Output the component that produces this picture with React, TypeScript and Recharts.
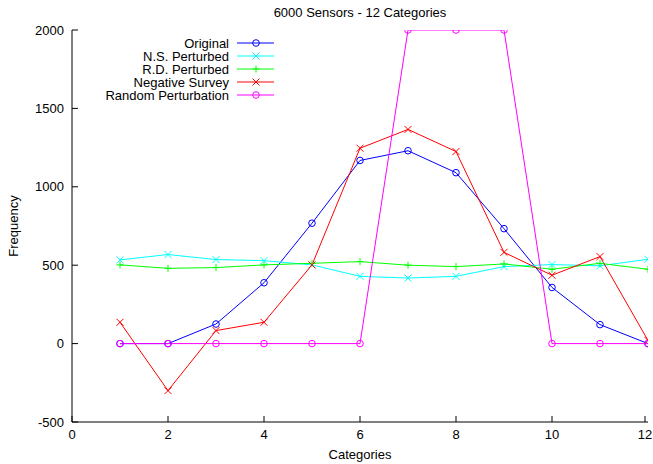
import React from 'react';
import { LineChart, Line, XAxis, YAxis, Legend } from 'recharts';

// Category index on the x axis
const categories = [1, 2, 3, 4, 5, 6, 7, 8, 9, 10, 11, 12];

// Frequency per category for each method
const original = [0, 0, 125, 388, 768, 1168, 1230, 1090, 733, 358, 121, 0];
const nsPerturbed = [534, 568, 536, 529, 502, 429, 418, 429, 491, 504, 496, 538];
const rdPerturbed = [502, 480, 485, 502, 512, 523, 500, 491, 508, 474, 512, 474];
const negativeSurvey = [136, -300, 83, 136, 502, 1246, 1366, 1225, 582, 436, 555, 20];
const randomPerturbation = [0, 0, 0, 0, 0, 0, 2000, 2000, 2000, 0, 0, 0];

const xTicks = [0, 2, 4, 6, 8, 10, 12];
const yTicks = [-500, 0, 500, 1000, 1500, 2000];

const title = '6000 Sensors - 12 Categories';
const xLabel = 'Categories';
const yLabel = 'Frequency';

type MarkerKind = 'circle' | 'x' | 'plus';

const series: { key: string; name: string; color: string; marker: MarkerKind; values: number[] }[] = [
  { key: 'original', name: 'Original', color: '#0000ff', marker: 'circle', values: original },
  { key: 'ns', name: 'N.S. Perturbed', color: '#00ffff', marker: 'x', values: nsPerturbed },
  { key: 'rd', name: 'R.D. Perturbed', color: '#00ff00', marker: 'plus', values: rdPerturbed },
  { key: 'neg', name: 'Negative Survey', color: '#ff0000', marker: 'x', values: negativeSurvey },
  { key: 'rand', name: 'Random Perturbation', color: '#ff00ff', marker: 'circle', values: randomPerturbation },
];

const data = categories.map((c, i) => {
  const row: Record<string, number> = { x: c };
  series.forEach((s) => {
    row[s.key] = s.values[i];
  });
  return row;
});

const FONT = '"Liberation Sans", Arial, Helvetica, sans-serif';
const FONT_SIZE = 13;
const TICK_LEN = 6;

function Marker({ cx, cy, kind, color }: { cx: number; cy: number; kind: MarkerKind; color: string }) {
  const s = 3.5;
  if (kind === 'circle') {
    return <circle cx={cx} cy={cy} r={3.3} fill="none" stroke={color} strokeWidth={1} />;
  }
  if (kind === 'plus') {
    return (
      <path
        d={`M${cx - s},${cy}L${cx + s},${cy}M${cx},${cy - s}L${cx},${cy + s}`}
        stroke={color}
        strokeWidth={1}
        fill="none"
      />
    );
  }
  return (
    <path
      d={`M${cx - s},${cy - s}L${cx + s},${cy + s}M${cx - s},${cy + s}L${cx + s},${cy - s}`}
      stroke={color}
      strokeWidth={1}
      fill="none"
    />
  );
}

const makeDot = (kind: MarkerKind, color: string) => (props: any) => {
  const { cx, cy, index } = props;
  if (cx == null || cy == null) return <g key={`d-${index}`} />;
  return (
    <g key={`d-${index}`}>
      <Marker cx={cx} cy={cy} kind={kind} color={color} />
    </g>
  );
};

// Ticks point inward, gnuplot style
const BottomTick = (props: any) => {
  const { x, y, payload } = props;
  return (
    <g>
      <line x1={x} y1={y} x2={x} y2={y - TICK_LEN} stroke="#000" />
      <text x={x} y={y + 17} textAnchor="middle" fontFamily={FONT} fontSize={FONT_SIZE} fill="#000">
        {payload.value}
      </text>
    </g>
  );
};

const TopTick = (props: any) => {
  const { x, y } = props;
  return <line x1={x} y1={y} x2={x} y2={y + TICK_LEN} stroke="#000" />;
};

const LeftTick = (props: any) => {
  const { x, y, payload } = props;
  return (
    <g>
      <line x1={x} y1={y} x2={x + TICK_LEN} y2={y} stroke="#000" />
      <text x={x - 8} y={y + 4.5} textAnchor="end" fontFamily={FONT} fontSize={FONT_SIZE} fill="#000">
        {payload.value}
      </text>
    </g>
  );
};

const RightTick = (props: any) => {
  const { x, y } = props;
  return <line x1={x} y1={y} x2={x - TICK_LEN} y2={y} stroke="#000" />;
};

const LegendBox = () => (
  <svg width={300} height={110} style={{ display: 'block' }}>
    {series.map((s, i) => {
      const y = 43 + i * 13;
      return (
        <g key={s.key}>
          <text x={229} y={y + 4.5} textAnchor="end" fontFamily={FONT} fontSize={FONT_SIZE} fill="#000">
            {s.name}
          </text>
          <line x1={237} y1={y} x2={274} y2={y} stroke={s.color} strokeWidth={1} />
          <Marker cx={256} cy={y} kind={s.marker} color={s.color} />
        </g>
      );
    })}
  </svg>
);

export default function App() {
  return (
    <div style={{ position: 'absolute', left: 0, top: 0, width: 653, height: 464, background: '#fff' }}>
      <LineChart
        width={653}
        height={464}
        data={data}
        margin={{ top: 30, right: 5, bottom: 12, left: 12 }}
      >
        <XAxis
          dataKey="x"
          type="number"
          domain={[0, 12]}
          ticks={xTicks}
          height={30}
          tickSize={0}
          tickMargin={0}
          tickLine={false}
          tick={<BottomTick />}
          axisLine={{ stroke: '#000' }}
          allowDataOverflow
        />
        <XAxis
          xAxisId="top"
          orientation="top"
          dataKey="x"
          type="number"
          domain={[0, 12]}
          ticks={xTicks}
          height={0}
          tickSize={0}
          tickMargin={0}
          tickLine={false}
          tick={<TopTick />}
          axisLine={{ stroke: '#000' }}
          allowDataOverflow
        />
        <YAxis
          type="number"
          domain={[-500, 2000]}
          ticks={yTicks}
          width={60}
          tickSize={0}
          tickMargin={0}
          tickLine={false}
          tick={<LeftTick />}
          axisLine={{ stroke: '#000' }}
          allowDataOverflow
        />
        <YAxis
          yAxisId="right"
          orientation="right"
          type="number"
          domain={[-500, 2000]}
          ticks={yTicks}
          width={0}
          tickSize={0}
          tickMargin={0}
          tickLine={false}
          tick={<RightTick />}
          axisLine={{ stroke: '#000' }}
          allowDataOverflow
        />
        <Legend
          layout="vertical"
          align="center"
          verticalAlign="middle"
          content={<LegendBox />}
          wrapperStyle={{ left: 0, top: 0, width: 300, height: 110 }}
        />
        {series.map((s) => (
          <Line
            key={s.key}
            dataKey={s.key}
            name={s.name}
            stroke={s.color}
            strokeWidth={1}
            dot={makeDot(s.marker, s.color)}
            activeDot={false}
            isAnimationActive={false}
            type="linear"
          />
        ))}
        <text x={360} y={17} textAnchor="middle" fontFamily={FONT} fontSize={FONT_SIZE} fill="#000">
          {title}
        </text>
        <text x={360} y={459} textAnchor="middle" fontFamily={FONT} fontSize={FONT_SIZE} fill="#000">
          {xLabel}
        </text>
        <text
          x={13}
          y={226}
          textAnchor="middle"
          fontFamily={FONT}
          fontSize={FONT_SIZE}
          fill="#000"
          transform="rotate(-90 13 226)"
          dy={4.5}
        >
          {yLabel}
        </text>
      </LineChart>
    </div>
  );
}
